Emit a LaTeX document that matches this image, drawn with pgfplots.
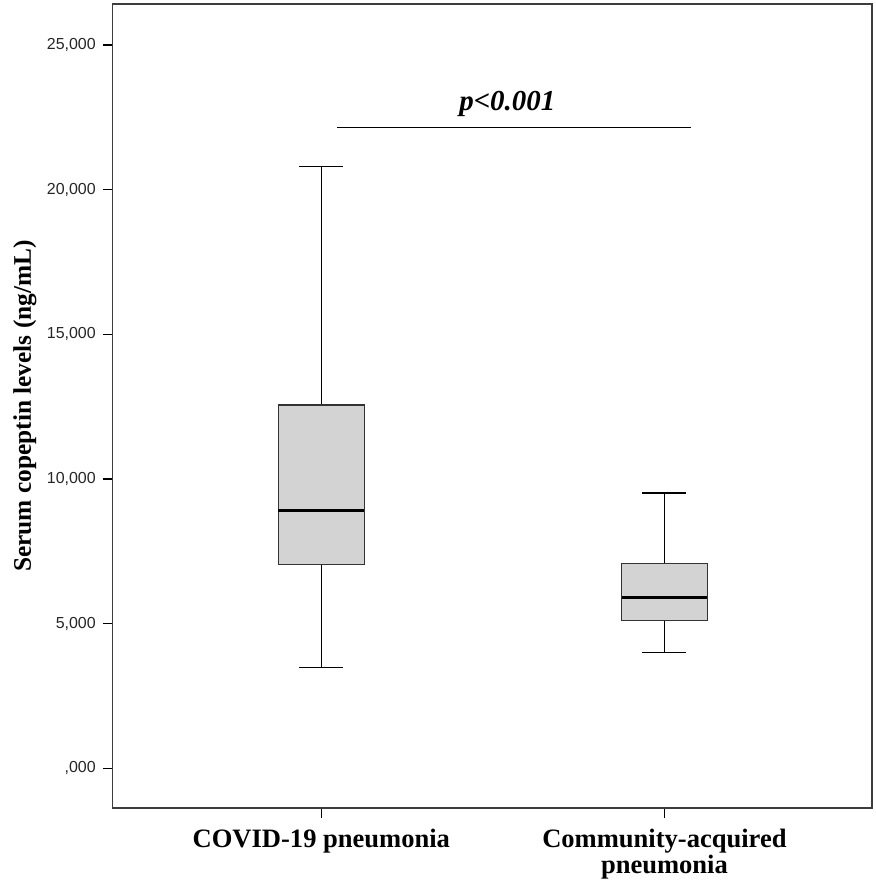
\documentclass[border=0pt]{standalone}
\usepackage{fontspec}
\setmainfont{Liberation Serif}
\newfontfamily\tickfont{Liberation Sans}
\usepackage{pgfplots}
\pgfplotsset{compat=1.18}
\definecolor{boxfill}{RGB}{211,211,211}
\definecolor{framegray}{RGB}{60,60,60}

\begin{document}
\begin{tikzpicture}
\useasboundingbox (-56.5pt,-36.5pt) rectangle (382pt,405pt);
% values in thousands of ng/mL
% COVID-19: whiskers 3.483 / 20.793, quartiles 7.034 / 12.552, median 8.897
% CAP:      whiskers 4.000 / 9.517,  quartiles 5.103 / 7.069,  median 5.897
\begin{axis}[
  at={(0,0)}, anchor=south west,
  scale only axis,
  width=380.5pt, height=403pt,
  xmin=0.392, xmax=2.605,
  ymin=-1.379, ymax=26.414,
  axis line style={framegray, line width=0.7pt},
  tick style={black, line width=0.7pt},
  tick align=outside,
  major tick length=5pt,
  xtick pos=left, ytick pos=left,
  xtick={1,2},
  xticklabels={COVID-19 pneumonia, {Community-acquired\\pneumonia}},
  xticklabel style={font=\bfseries\fontsize{13.3}{13.2}\selectfont, align=center, anchor=north, yshift=-2pt},
  ytick={0,5,10,15,20,25},
  yticklabels={{,000},{5,000},{10,000},{15,000},{20,000},{25,000}},
  yticklabel style={font=\tickfont\fontsize{8}{9}\selectfont, text=black!85},
  ylabel={Serum copeptin levels (ng/mL)},
  ylabel style={at={(axis description cs:-0.1156,0.5)}, anchor=center, font=\bfseries\fontsize{12.7}{14}\selectfont},
  clip=false,
]
% COVID-19 pneumonia
\addplot[black, line width=0.75pt] coordinates {(1,12.552) (1,20.793)};
\addplot[black, line width=0.75pt] coordinates {(1,3.483) (1,7.034)};
\addplot[black, line width=0.75pt] coordinates {(0.936,20.793) (1.064,20.793)};
\addplot[black, line width=0.75pt] coordinates {(0.936,3.483) (1.064,3.483)};
\addplot[draw=black!80, fill=boxfill, line width=0.7pt] coordinates {(0.875,7.034) (1.125,7.034) (1.125,12.552) (0.875,12.552)} -- cycle;
\addplot[black, line width=1.6pt] coordinates {(0.875,8.897) (1.125,8.897)};
% Community-acquired pneumonia
\addplot[black, line width=0.75pt] coordinates {(2,7.069) (2,9.517)};
\addplot[black, line width=0.75pt] coordinates {(2,4.000) (2,5.103)};
\addplot[black, line width=0.75pt] coordinates {(1.936,9.517) (2.064,9.517)};
\addplot[black, line width=0.75pt] coordinates {(1.936,4.000) (2.064,4.000)};
\addplot[draw=black!80, fill=boxfill, line width=0.7pt] coordinates {(1.875,5.103) (2.125,5.103) (2.125,7.069) (1.875,7.069)} -- cycle;
\addplot[black, line width=1.6pt] coordinates {(1.875,5.897) (2.125,5.897)};
% significance bar
\addplot[black, line width=0.7pt] coordinates {(1.047,22.138) (2.076,22.138)};
\node[font=\bfseries\itshape\fontsize{14.5}{16}\selectfont] at (axis cs:1.542,22.966) {p<0.001};
\end{axis}
\end{tikzpicture}
\end{document}
